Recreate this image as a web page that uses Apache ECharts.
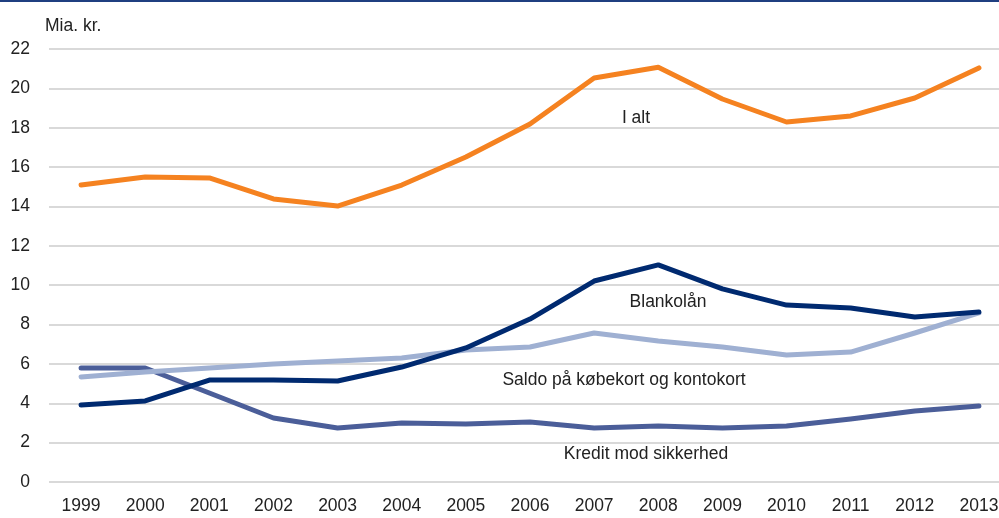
<!DOCTYPE html>
<html><head><meta charset="utf-8">
<script src="https://cdn.jsdelivr.net/npm/echarts@6/dist/echarts.min.js"></script>
<style>html,body{margin:0;padding:0;background:#fff}#c{width:999px;height:518px}</style>
</head><body><div id="c"></div>
<script>
const years = ['1999','2000','2001','2002','2003','2004','2005','2006','2007','2008','2009','2010','2011','2012','2013'];
const iAlt = [15.09,15.5,15.45,14.38,14.02,15.09,16.51,18.19,20.53,21.07,19.46,18.29,18.6,19.51,21.04];
const blankolaan = [3.91,4.12,5.18,5.18,5.13,5.84,6.81,8.28,10.21,11.03,9.81,8.99,8.84,8.38,8.64];
const saldo = [5.34,5.59,5.79,6.0,6.15,6.3,6.71,6.86,7.57,7.16,6.86,6.45,6.6,7.57,8.59];
const kredit = [5.79,5.79,4.52,3.25,2.74,3.0,2.95,3.05,2.74,2.85,2.74,2.85,3.2,3.61,3.86];
const yTicks = {min:0, max:22, interval:2};

const chart = echarts.init(document.getElementById('c'));
const font = 'Liberation Sans, Arial, sans-serif';
const mk = (name, data, color) => ({name, type:'line', data, symbol:'none', smooth:false,
  lineStyle:{color, width:5, cap:'round', join:'round'}, itemStyle:{color}});
chart.setOption({
  animation:false,
  grid:{left:49, right:-12, top:49, bottom:36, outerBoundsMode:'none', containLabel:false},
  xAxis:{type:'category', data:years, boundaryGap:true,
    axisLine:{show:false}, axisTick:{show:false},
    axisLabel:{color:'#222', fontSize:17.5, fontFamily:font, margin:15, interval:0}},
  yAxis:{type:'value', min:yTicks.min, max:yTicks.max, interval:yTicks.interval,
    axisLine:{show:false}, axisTick:{show:false},
    splitLine:{lineStyle:{color:'#d9d9d9', width:2}},
    axisLabel:{color:'#222', fontSize:17.5, fontFamily:font, margin:19}},
  series:[
    mk('Kredit mod sikkerhed', kredit, '#4b5e99'),
    mk('Saldo på købekort og kontokort', saldo, '#9fb0d2'),
    mk('Blankolån', blankolaan, '#002a70'),
    mk('I alt', iAlt, '#f58220')
  ],
  graphic:[
    {type:'rect', left:0, top:0, shape:{width:999, height:2}, style:{fill:'#1f3f80'}},
    {type:'text', left:45, top:17, style:{text:'Mia. kr.', font:'17.5px '+font, fill:'#222'}},
    {type:'text', x:636, y:118, style:{text:'I alt', font:'17.5px '+font, fill:'#222', align:'center', verticalAlign:'middle'}},
    {type:'text', x:668, y:302, style:{text:'Blankolån', font:'17.5px '+font, fill:'#222', align:'center', verticalAlign:'middle'}},
    {type:'text', x:624, y:380, style:{text:'Saldo på købekort og kontokort', font:'17.5px '+font, fill:'#222', align:'center', verticalAlign:'middle'}},
    {type:'text', x:646, y:454, style:{text:'Kredit mod sikkerhed', font:'17.5px '+font, fill:'#222', align:'center', verticalAlign:'middle'}}
  ]
});
</script></body></html>
